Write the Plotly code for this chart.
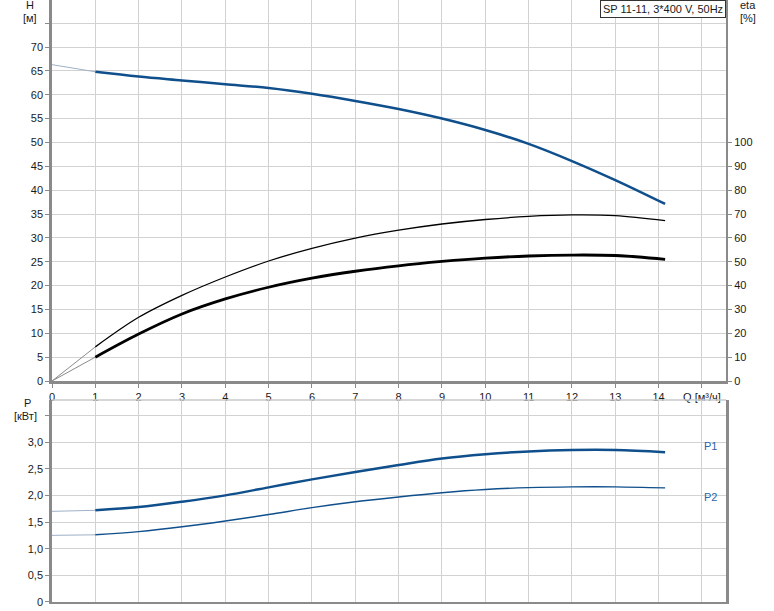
import plotly.graph_objects as go

# ---- data ----
Q = [0, 1, 2, 3, 4, 5, 6, 7, 8, 9, 10, 11, 12, 13, 14.15]
H = [66.3, 64.8, 63.8, 63.0, 62.2, 61.4, 60.2, 58.7, 57.0, 55.0, 52.6, 49.7, 46.1, 42.1, 37.1]
ETA = [0, 14.3, 26.7, 35.9, 43.6, 50.3, 55.6, 59.9, 63.2, 65.8, 67.7, 69.0, 69.6, 69.3, 67.2]
ETA_TOT = [0, 10.0, 19.7, 28.1, 34.4, 39.3, 43.1, 46.0, 48.3, 50.1, 51.5, 52.4, 52.8, 52.6, 51.0]
P1 = [1.70, 1.72, 1.78, 1.88, 2.00, 2.15, 2.30, 2.44, 2.57, 2.69, 2.77, 2.825, 2.85, 2.85, 2.81]
P2 = [1.25, 1.26, 1.32, 1.41, 1.52, 1.64, 1.77, 1.88, 1.97, 2.05, 2.11, 2.145, 2.16, 2.16, 2.14]

X_TICKS = [0, 1, 2, 3, 4, 5, 6, 7, 8, 9, 10, 11, 12, 13, 14, 15]
X_TICKTEXT = ["0", "1", "2", "3", "4", "5", "6", "7", "8", "9", "10", "11", "12", "13", "14", "Q [м³/ч]"]
H_TICKS = [0, 5, 10, 15, 20, 25, 30, 35, 40, 45, 50, 55, 60, 65, 70, 75]
H_TICKTEXT = ["0", "5", "10", "15", "20", "25", "30", "35", "40", "45", "50", "55", "60", "65", "70", ""]
ETA_TICKS = [0, 10, 20, 30, 40, 50, 60, 70, 80, 90, 100]
P_TICKS = [0, 0.5, 1.0, 1.5, 2.0, 2.5, 3.0, 3.5]
P_TICKTEXT = ["0", "0,5", "1,0", "1,5", "2,0", "2,5", "3,0", ""]
TITLE = "SP 11-11, 3*400 V, 50Hz"

BLUE = "#0f4f8c"
LIGHT_BLUE = "#9fb0c6"
GRID = "#d2d2d2"
AXIS = "#8a8a8a"
FONT = "Liberation Sans, Arial, sans-serif"

fig = go.Figure()

def add_curve(y, xa, ya, color, width, thin_color):
    # extrapolated start segment (0..1) thin and light
    fig.add_trace(go.Scatter(x=Q[:2], y=y[:2], mode="lines", xaxis=xa, yaxis=ya,
                             line=dict(color=thin_color, width=1), hoverinfo="skip"))
    fig.add_trace(go.Scatter(x=Q[1:], y=y[1:], mode="lines", xaxis=xa, yaxis=ya,
                             line=dict(color=color, width=width, shape="spline", smoothing=1.0),
                             hoverinfo="skip"))

add_curve(H, "x", "y", BLUE, 2.5, LIGHT_BLUE)
add_curve(ETA, "x", "y2", "#000000", 1.3, "#8a8a8a")
add_curve(ETA_TOT, "x", "y2", "#000000", 2.8, "#8a8a8a")
add_curve(P1, "x2", "y3", BLUE, 2.5, LIGHT_BLUE)
add_curve(P2, "x2", "y3", BLUE, 1.4, LIGHT_BLUE)

xr = [0, 15.555]
top_dom = [0.3671, 1.0]
bot_dom = [0.0, 0.3355]

fig.update_layout(
    width=774, height=611,
    margin=dict(l=52, r=48, t=0, b=9),
    paper_bgcolor="white", plot_bgcolor="white",
    showlegend=False,
    font=dict(family=FONT, size=11, color="#1a1a1a"),
    xaxis=dict(domain=[0, 1], range=xr, anchor="y", tickmode="array",
               tickvals=X_TICKS, ticktext=X_TICKTEXT, showgrid=True, gridcolor=GRID,
               gridwidth=1, zeroline=False, showline=True, linecolor=AXIS, linewidth=2.5,
               ticks="outside", ticklen=4, tickcolor=AXIS, tickfont=dict(size=11)),
    yaxis=dict(domain=top_dom, range=[0, 79.85], anchor="x", tickmode="array",
               tickvals=H_TICKS, ticktext=H_TICKTEXT, showgrid=True, gridcolor=GRID,
               gridwidth=1, zeroline=False, showline=True, linecolor=AXIS, linewidth=2.5,
               ticks="outside", ticklen=4, tickcolor=AXIS),
    yaxis2=dict(overlaying="y", side="right", anchor="x", range=[0, 159.7],
                tickmode="array", tickvals=ETA_TICKS, showgrid=False, zeroline=False,
                showline=True, linecolor=AXIS, linewidth=2, ticks="outside", ticklen=4,
                tickcolor=AXIS),
    xaxis2=dict(domain=[0, 1], range=xr, anchor="y3", tickmode="array",
                tickvals=X_TICKS, showticklabels=False, showgrid=True, gridcolor=GRID,
                gridwidth=1, zeroline=False, showline=True, linecolor=AXIS, linewidth=2,
                ticks=""),
    yaxis3=dict(domain=bot_dom, range=[0, 3.788], anchor="x2", tickmode="array",
                tickvals=P_TICKS, ticktext=P_TICKTEXT, showgrid=True, gridcolor=GRID,
                gridwidth=1, zeroline=False, showline=True, mirror=True, linecolor=AXIS,
                linewidth=2.5, ticks="outside", ticklen=4, tickcolor=AXIS),
)

# top border of lower panel
fig.add_shape(type="line", xref="paper", yref="paper", x0=0, x1=1, y0=bot_dom[1], y1=bot_dom[1],
              line=dict(color="#c8c8c8", width=1.5))

def ann(text, x, y, xanchor="center", yanchor="middle", color="#1a1a1a", **kw):
    fig.add_annotation(text=text, x=x, y=y, xref=kw.pop("xref", "paper"), yref=kw.pop("yref", "paper"),
                       xanchor=xanchor, yanchor=yanchor, showarrow=False,
                       font=dict(size=11, color=color, family=FONT), **kw)

ann("H", -0.0326, 0.9917)
ann("[м]", -0.0326, 0.970)
ann("eta", 1.0326, 0.9917)
ann("[%]", 1.0326, 0.970)
ann("P", -0.036, 0.3306)
ann("[кВт]", -0.040, 0.3090)

fig.add_annotation(text=TITLE, xref="paper", yref="paper", x=1, y=1, xanchor="right",
                   yanchor="top", showarrow=False, bgcolor="white", bordercolor="#333333",
                   borderwidth=1, borderpad=2, font=dict(size=11, color="#1a1a1a", family=FONT))

ann("P1", 15, 2.925, xanchor="left", color="#2a64a8", xref="x2", yref="y3")
ann("P2", 15, 1.975, xanchor="left", color="#2a64a8", xref="x2", yref="y3")

fig.write_html("out.html", config={"displayModeBar": False},
               post_script="document.body.style.margin='0';")
